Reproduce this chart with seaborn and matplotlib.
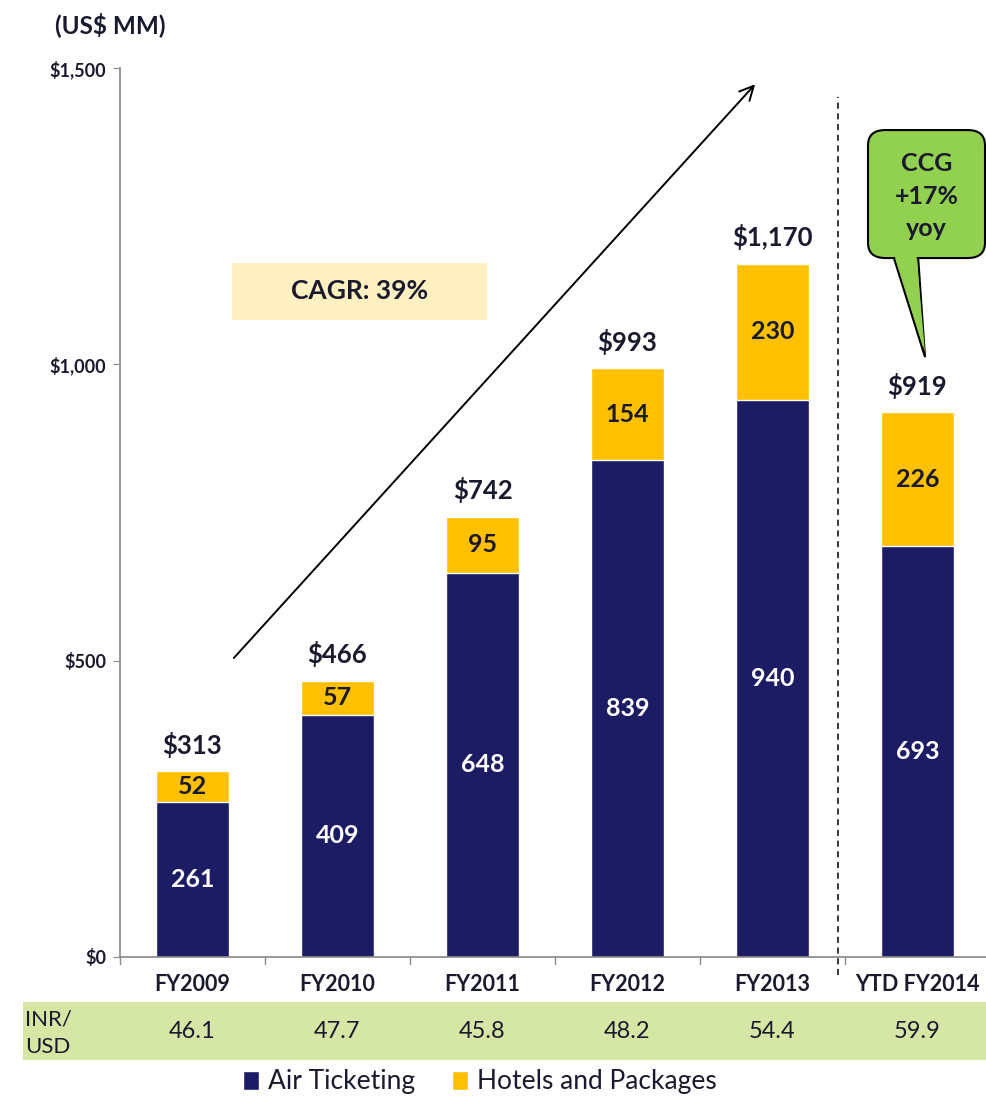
import numpy as np
import pandas as pd
import seaborn as sns
import matplotlib.pyplot as plt
from matplotlib.patches import Rectangle, FancyBboxPatch, Polygon, Patch
import matplotlib.transforms as mtransforms

sns.set_style('white')
plt.rcParams['font.family'] = ['Lato', 'DejaVu Sans']

# dados
anos = ['FY2009', 'FY2010', 'FY2011', 'FY2012', 'FY2013', 'YTD FY2014']
aereo = [261, 409, 648, 839, 940, 693]
hoteis = [52, 57, 95, 154, 230, 226]
totais = ['$313', '$466', '$742', '$993', '$1,170', '$919']
cambio = ['46.1', '47.7', '45.8', '48.2', '54.4', '59.9']

azul = '#1C1C64'
amarelo = '#FFC000'
escuro = '#1A1A2E'

df = pd.DataFrame({'ano': anos, 'aereo': aereo, 'hoteis': hoteis})
df['total'] = df['aereo'] + df['hoteis']

fig = plt.figure(figsize=(9.86, 11.2), dpi=100)
ax = fig.add_axes([120 / 986, 163 / 1120, 870 / 986, 889 / 1120])

sns.barplot(data=df, x='ano', y='total', color=amarelo, width=0.51, ax=ax, saturation=1)
sns.barplot(data=df, x='ano', y='aereo', color=azul, width=0.51, ax=ax, saturation=1)

ax.set_xlim(-0.5, 5.5)
ax.set_ylim(0, 1500)
ax.set_yticks([0, 500, 1000, 1500])
ax.set_yticklabels(['$0', '$500', '$1,000', '$1,500'], fontsize=13, fontweight='bold', color=escuro)
ax.set_xlabel('')
ax.set_ylabel('')
ax.set_xticks(np.arange(len(anos)))
ax.set_xticklabels(anos, fontsize=15.5, fontweight='bold', color=escuro)
ax.tick_params(axis='x', length=0, pad=12)
ax.tick_params(axis='y', length=5, color='#888888', direction='out', left=True, pad=5)
for s in ['top', 'right']:
    ax.spines[s].set_visible(False)
for s in ['left', 'bottom']:
    ax.spines[s].set_color('#888888')
    ax.spines[s].set_linewidth(1.2)

# marcas entre as categorias
for k in range(len(anos)):
    ax.plot([k - 0.5, k - 0.5], [0, -12], color='#888888', lw=1, clip_on=False)

# rotulos
for i, row in df.iterrows():
    ax.text(i, row['aereo'] / 2, str(row['aereo']), ha='center', va='center',
            color='white', fontsize=18, fontweight='bold')
    ax.text(i, row['aereo'] + row['hoteis'] / 2, str(row['hoteis']), ha='center', va='center',
            color=escuro, fontsize=18, fontweight='bold')
    ax.text(i, row['total'] + 45, totais[i], ha='center', va='center',
            color=escuro, fontsize=18.5, fontweight='bold')

# linha tracejada separando o YTD
ax.plot([4.452, 4.452], [-30, 1451], color='black', lw=1.1, ls=(0, (4, 3)), clip_on=False)

# seta do CAGR
ax.annotate('', xy=(3.893, 1476), xytext=(0.272, 501),
            arrowprops=dict(arrowstyle='->', color='black', lw=1.4, mutation_scale=25))

# caixa CAGR
ax.add_patch(Rectangle((0.272, 1075), 1.758, 96, facecolor='#FFF0C2', edgecolor='none'))
ax.text(1.15, 1123, 'CAGR: 39%', ha='center', va='center', fontsize=19, fontweight='bold', color=escuro)

# balao CCG
x0, x1 = (868 - 192.5) / 145, (985 - 192.5) / 145
y0, y1 = (957 - 258) / 0.5927, (957 - 130) / 0.5927
ax.add_patch(Polygon([[(893 - 192.5) / 145, y0 + 5], [(925 - 192.5) / 145, (957 - 357) / 0.5927],
                      [(918 - 192.5) / 145, y0 + 5]], closed=True,
                     facecolor='#92D050', edgecolor='black', lw=1.5, clip_on=False, zorder=5))
ax.add_patch(FancyBboxPatch((x0, y0), x1 - x0, y1 - y0,
                            boxstyle='round,pad=0,rounding_size=0.12',
                            mutation_aspect=(y1 - y0) / (x1 - x0) * 0.8,
                            facecolor='#92D050', edgecolor='black', lw=1.5, clip_on=False, zorder=6))
ax.add_patch(Polygon([[(894.5 - 192.5) / 145, y0 + 4], [(925 - 192.5) / 145, (957 - 352) / 0.5927],
                      [(916.5 - 192.5) / 145, y0 + 4]], closed=True,
                     facecolor='#92D050', edgecolor='none', clip_on=False, zorder=7))
ax.text((x0 + x1) / 2, (y0 + y1) / 2 - 4, 'CCG\n+17%\nyoy', ha='center', va='center',
        fontsize=18, fontweight='bold', color=escuro, linespacing=1.5, zorder=8)

# titulo das unidades
fig.text(55 / 986, 1 - 25 / 1120, '(US$ MM)', ha='left', va='center',
         fontsize=17.5, fontweight='bold', color=escuro)

# faixa do cambio INR/USD
fig.patches.append(Rectangle((23 / 986, (1120 - 1060) / 1120), 1, 58 / 1120,
                             transform=fig.transFigure, facecolor='#D6E6A5', edgecolor='none', zorder=-1))
trans = mtransforms.blended_transform_factory(ax.transData, fig.transFigure)
fig.text(25 / 986, 1 - 1033 / 1120, 'INR/\nUSD', ha='left', va='center',
         fontsize=16, color=escuro, linespacing=1.5)
for i, v in enumerate(cambio):
    fig.text(i, 1 - 1031 / 1120, v, transform=trans, ha='center', va='center',
             fontsize=17, color=escuro)

# legenda
handles = [Patch(facecolor=azul, label='Air Ticketing'), Patch(facecolor=amarelo, label='Hotels and Packages')]
fig.legend(handles=handles, loc='center', bbox_to_anchor=(480 / 986, 1 - 1082 / 1120), ncol=2,
           frameon=False, fontsize=19, handlelength=0.6, handleheight=0.7, handletextpad=0.35,
           columnspacing=1.4, labelcolor=escuro)

fig.savefig('out.png', dpi=100)
